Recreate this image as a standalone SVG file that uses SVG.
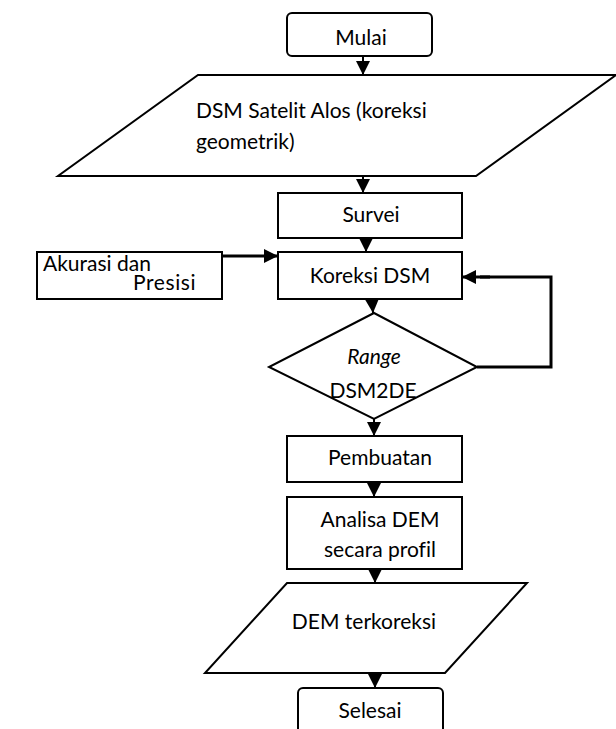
<svg xmlns="http://www.w3.org/2000/svg" width="616" height="729" viewBox="0 0 616 729">
<style>
.s{fill:#fff;stroke:#000;stroke-width:2}
.t{font-family:Lato,"Open Sans","Liberation Sans",sans-serif;font-size:21px;fill:#000;font-variant-ligatures:none}
.c{text-anchor:middle}
.l{fill:none;stroke:#000;stroke-width:2}
.k{fill:none;stroke:#000;stroke-width:3}
</style>
<defs>
<marker id="a" markerWidth="14" markerHeight="14" viewBox="0 0 14 14" refX="14" refY="7" orient="auto" markerUnits="userSpaceOnUse">
<path d="M0,0 L14,7 L0,14 Z" fill="#000"/>
</marker>
</defs>
<rect width="616" height="729" fill="#fff"/>
<g id="connectors">
<line class="l" x1="363" y1="56" x2="363" y2="75" marker-end="url(#a)"/>
<line class="l" x1="363" y1="176" x2="363" y2="193" marker-end="url(#a)"/>
<line class="l" x1="366" y1="238" x2="366" y2="252" marker-end="url(#a)"/>
<line class="k" x1="222" y1="256" x2="278" y2="256" marker-end="url(#a)"/>
<line class="l" x1="372" y1="299" x2="373" y2="313" marker-end="url(#a)"/>
<polyline class="k" points="477,367 551,367 551,277 480,277"/>
<line class="k" x1="490" y1="277" x2="462" y2="277" marker-end="url(#a)"/>
<line class="l" x1="374" y1="419" x2="374" y2="436" marker-end="url(#a)"/>
<line class="l" x1="374" y1="482" x2="374" y2="497" marker-end="url(#a)"/>
<line class="l" x1="375" y1="569" x2="375" y2="583" marker-end="url(#a)"/>
<line class="l" x1="375" y1="673" x2="375" y2="688" marker-end="url(#a)"/>
</g>
<g id="mulai">
<rect class="s" x="287" y="13" width="145" height="43" rx="5"/>
<text class="t c" x="361" y="45">Mulai</text>
</g>
<g id="dsm-satelit">
<polygon class="s" points="198,75 616,75 476,176 58,176"/>
<text class="t" x="196" y="118">DSM Satelit Alos (koreksi</text>
<text class="t" x="196" y="149">geometrik)</text>
</g>
<g id="survei">
<rect class="s" x="278" y="193" width="184" height="45"/>
<text class="t c" x="371" y="222">Survei</text>
</g>
<g id="akurasi">
<rect class="s" x="37" y="252" width="185" height="47"/>
<text class="t" x="43" y="271">Akurasi dan</text>
<text class="t" x="133" y="290" letter-spacing="0.6">Presisi</text>
</g>
<g id="koreksi-dsm">
<rect class="s" x="278" y="252" width="184" height="47"/>
<text class="t c" x="370" y="283">Koreksi DSM</text>
</g>
<g id="range">
<polygon class="s" points="374,313 477,367 374,419 269,367"/>
<text class="t c" x="374" y="364" font-style="italic">Range</text>
<text class="t c" x="373" y="398">DSM2DE</text>
</g>
<g id="pembuatan">
<rect class="s" x="287" y="436" width="175" height="46"/>
<text class="t c" x="380" y="465">Pembuatan</text>
</g>
<g id="analisa">
<rect class="s" x="287" y="497" width="175" height="72"/>
<text class="t c" x="380" y="527">Analisa DEM</text>
<text class="t c" x="380" y="557">secara profil</text>
</g>
<g id="dem-terkoreksi">
<polygon class="s" points="287,583 527,583 445,673 205,673"/>
<text class="t c" x="364" y="629">DEM terkoreksi</text>
</g>
<g id="selesai">
<rect class="s" x="298" y="688" width="145" height="50" rx="5"/>
<text class="t c" x="370" y="718">Selesai</text>
</g>
</svg>
